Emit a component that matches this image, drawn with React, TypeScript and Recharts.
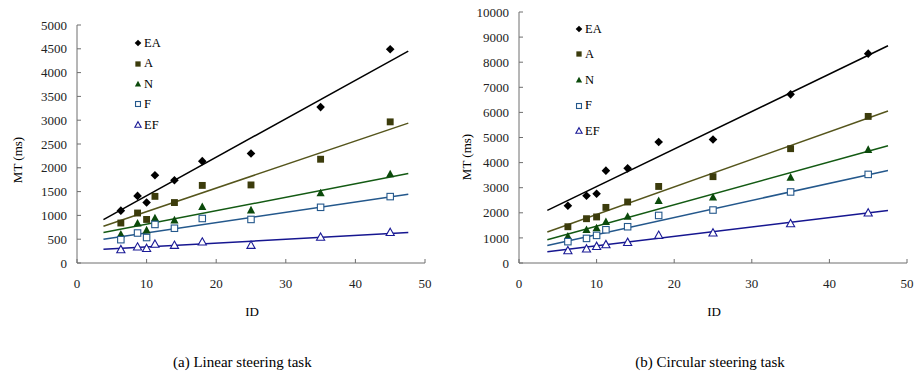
import React from "react";
import {
  ScatterChart,
  Scatter,
  XAxis,
  YAxis,
  Legend,
} from "recharts";

// ID values shared by every condition
const ids = [6.3, 8.7, 10, 11.2, 14, 18, 25, 35, 45];

// (a) linear steering task, MT in ms
const linEA = [1100, 1410, 1270, 1845, 1740, 2140, 2300, 3275, 4490];
const linA = [840, 1050, 915, 1400, 1270, 1630, 1640, 2180, 2965];
const linN = [605, 835, 690, 945, 900, 1180, 1110, 1470, 1870];
const linF = [490, 630, 535, 810, 730, 935, 915, 1170, 1395];
const linEF = [280, 335, 305, 395, 370, 440, 370, 540, 640];

// (b) circular steering task, MT in ms
const circEA = [2280, 2680, 2760, 3680, 3770, 4820, 4920, 6720, 8340];
const circA = [1445, 1765, 1835, 2215, 2430, 3050, 3440, 4555, 5840];
const circN = [1060, 1325, 1395, 1645, 1855, 2480, 2615, 3410, 4515];
const circF = [850, 980, 1100, 1325, 1445, 1895, 2110, 2830, 3530];
const circEF = [490, 560, 660, 730, 820, 1100, 1195, 1565, 1990];

// trendline end points
const linTrendX = [3.8, 47.6];
const linTrendEA = [913, 4453];
const linTrendA = [772, 2939];
const linTrendN = [639, 1880];
const linTrendF = [498, 1445];
const linTrendEF = [288, 639];

const circTrendX = [3.65, 47.55];
const circTrendEA = [2096, 8657];
const circTrendA = [1235, 6056];
const circTrendN = [928, 4673];
const circTrendF = [701, 3689];
const circTrendEF = [450, 2096];

const xTicks = [0, 10, 20, 30, 40, 50];
const linYTicks = [0, 500, 1000, 1500, 2000, 2500, 3000, 3500, 4000, 4500, 5000];
const circYTicks = [0, 1000, 2000, 3000, 4000, 5000, 6000, 7000, 8000, 9000, 10000];

const seriesNames = ["EA", "A", "N", "F", "EF"];

const FONT = '"Times New Roman", "Liberation Serif", "DejaVu Serif", serif';

type Kind = "diamond" | "square" | "triangle" | "openSquare" | "openTriangle";

const styles: { kind: Kind; color: string; line: string }[] = [
  { kind: "diamond", color: "#000000", line: "#000000" },
  { kind: "square", color: "#3c3c0c", line: "#55551c" },
  { kind: "triangle", color: "#0b4a0b", line: "#135a13" },
  { kind: "openSquare", color: "#24588c", line: "#24588c" },
  { kind: "openTriangle", color: "#1a1a96", line: "#161690" },
];

function Marker({ kind, cx, cy, r, color }: { kind: Kind; cx: number; cy: number; r: number; color: string }) {
  if (cx == null || cy == null) return null;
  switch (kind) {
    case "diamond":
      return (
        <polygon
          points={`${cx},${cy - r} ${cx + r},${cy} ${cx},${cy + r} ${cx - r},${cy}`}
          fill={color}
        />
      );
    case "square":
      return <rect x={cx - r * 0.8} y={cy - r * 0.8} width={r * 1.6} height={r * 1.6} fill={color} />;
    case "openSquare":
      return (
        <rect
          x={cx - r * 0.75}
          y={cy - r * 0.75}
          width={r * 1.5}
          height={r * 1.5}
          fill="#fff"
          stroke={color}
          strokeWidth={1.1}
        />
      );
    case "triangle":
      return (
        <polygon
          points={`${cx},${cy - r} ${cx + r * 0.95},${cy + r * 0.75} ${cx - r * 0.95},${cy + r * 0.75}`}
          fill={color}
        />
      );
    case "openTriangle":
      return (
        <polygon
          points={`${cx},${cy - r} ${cx + r * 0.95},${cy + r * 0.7} ${cx - r * 0.95},${cy + r * 0.7}`}
          fill="#fff"
          stroke={color}
          strokeWidth={1.1}
        />
      );
  }
  return null;
}

const toPoints = (xs: number[], ys: number[]) => xs.map((x, i) => ({ x, y: ys[i] }));

function LegendBox({ spacing }: { spacing: number }) {
  return (
    <div style={{ fontFamily: FONT, fontSize: 12.5, color: "#000", lineHeight: 1 }}>
      {seriesNames.map((name, i) => (
        <div key={name} style={{ height: spacing, display: "flex", alignItems: "center" }}>
          <svg width={10} height={10} style={{ marginRight: 1 }}>
            <Marker kind={styles[i].kind} cx={5} cy={5} r={3.3} color={styles[i].color} />
          </svg>
          <span>{name}</span>
        </div>
      ))}
    </div>
  );
}

interface PanelProps {
  values: number[][];
  trendX: number[];
  trends: number[][];
  yTicks: number[];
  yMax: number;
  width: number;
  top: number;
  yAxisWidth: number;
  right: number;
  legendLeft: number;
  legendTop: number;
  legendSpacing: number;
}

function Panel({ values, trendX, trends, yTicks, yMax, width, top, yAxisWidth, right, legendLeft, legendTop, legendSpacing }: PanelProps) {
  const height = 330;
  return (
    <ScatterChart
      width={width}
      height={height}
      margin={{ top, right, bottom: height - 263 - 55, left: 0 }}
      style={{ overflow: "visible" }}
    >
      <XAxis
        dataKey="x"
        type="number"
        domain={[0, 50]}
        ticks={xTicks}
        height={55}
        stroke="#6e6e6e"
        tickSize={-4}
        tickMargin={20}
        tick={{ fill: "#222", fontSize: 13, fontFamily: FONT }}
        allowDataOverflow
      />
      <YAxis
        dataKey="y"
        type="number"
        domain={[0, yMax]}
        ticks={yTicks}
        width={yAxisWidth}
        stroke="#6e6e6e"
        tickSize={-4}
        tickMargin={14}
        tick={{ fill: "#222", fontSize: 13, fontFamily: FONT }}
        allowDataOverflow
      />
      {trends.map((t, i) => (
        <Scatter
          key={"t" + i}
          data={toPoints(trendX, t)}
          line={{ stroke: styles[i].line, strokeWidth: 1.5 }}
          shape={() => <g />}
          isAnimationActive={false}
        />
      ))}
      {values.map((v, i) => (
        <Scatter
          key={"s" + i}
          name={seriesNames[i]}
          data={toPoints(ids, v)}
          shape={(p: any) => <Marker kind={styles[i].kind} cx={p.cx} cy={p.cy} r={4.3} color={styles[i].color} />}
          isAnimationActive={false}
        />
      ))}
      <Legend
        layout="vertical"
        align="center"
        verticalAlign="middle"
        content={() => <LegendBox spacing={legendSpacing} />}
        wrapperStyle={{ left: legendLeft, top: legendTop, width: 60 }}
      />
    </ScatterChart>
  );
}

const textStyle: React.CSSProperties = {
  position: "absolute",
  fontFamily: FONT,
  color: "#000",
  whiteSpace: "nowrap",
  lineHeight: 1,
};

export default function App() {
  return (
    <div style={{ position: "absolute", left: 0, top: 0, width: 914, height: 376, background: "#fff" }}>
      <div style={{ position: "absolute", left: 0, top: 0 }}>
        <Panel
          values={[linEA, linA, linN, linF, linEF]}
          trendX={linTrendX}
          trends={[linTrendEA, linTrendA, linTrendN, linTrendF, linTrendEF]}
          yTicks={linYTicks}
          yMax={5000}
          width={440}
          top={25}
          yAxisWidth={77}
          right={15}
          legendLeft={133}
          legendTop={33}
          legendSpacing={20.4}
        />
      </div>
      <div style={{ position: "absolute", left: 445, top: 0 }}>
        <Panel
          values={[circEA, circA, circN, circF, circEF]}
          trendX={circTrendX}
          trends={[circTrendEA, circTrendA, circTrendN, circTrendF, circTrendEF]}
          yTicks={circYTicks}
          yMax={10000}
          width={469}
          top={12}
          yAxisWidth={74}
          right={7}
          legendLeft={129}
          legendTop={16}
          legendSpacing={25.6}
        />
      </div>

      <div style={{ ...textStyle, fontSize: 13, left: 252, top: 311, transform: "translate(-50%, -50%)" }}>ID</div>
      <div style={{ ...textStyle, fontSize: 13, left: 714, top: 311, transform: "translate(-50%, -50%)" }}>ID</div>
      <div style={{ ...textStyle, fontSize: 13, left: 17, top: 160, transform: "translate(-50%, -50%) rotate(-90deg)" }}>MT (ms)</div>
      <div style={{ ...textStyle, fontSize: 13, left: 466, top: 157, transform: "translate(-50%, -50%) rotate(-90deg)" }}>MT (ms)</div>

      <div style={{ ...textStyle, fontSize: 15, left: 173, top: 362, transform: "translateY(-50%)" }}>(a) Linear steering task</div>
      <div style={{ ...textStyle, fontSize: 15, left: 710, top: 362, transform: "translate(-50%, -50%)" }}>(b) Circular steering task</div>
    </div>
  );
}
